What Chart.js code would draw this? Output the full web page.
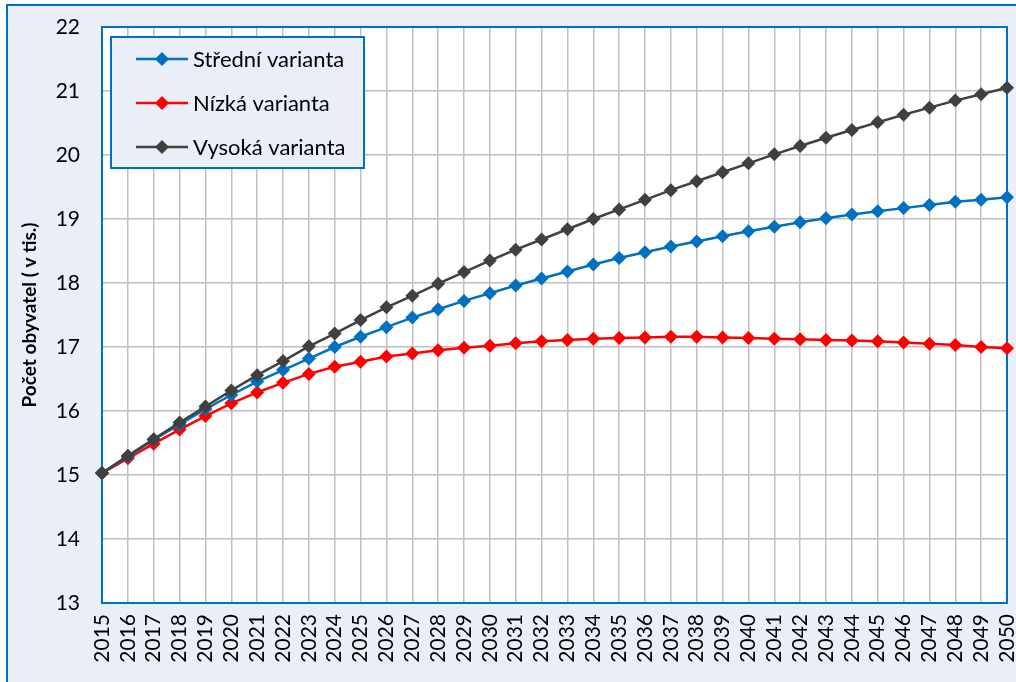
<!DOCTYPE html>
<html><head><meta charset="utf-8">
<script src="https://cdn.jsdelivr.net/npm/chart.js@4/dist/chart.umd.min.js"></script>
<style>html,body{margin:0;padding:0;background:#fff}#wrap{width:1016px;height:682px;position:relative}</style>
</head><body><div id="wrap"><canvas id="c" width="1016" height="682"></canvas></div>
<script>
const years = ['2015','2016','2017','2018','2019','2020','2021','2022','2023','2024','2025','2026','2027','2028','2029','2030','2031','2032','2033','2034','2035','2036','2037','2038','2039','2040','2041','2042','2043','2044','2045','2046','2047','2048','2049','2050'];
const stredni = [15.03,15.29,15.55,15.79,16.03,16.25,16.46,16.64,16.82,17.00,17.16,17.31,17.46,17.59,17.72,17.84,17.96,18.07,18.18,18.29,18.39,18.48,18.57,18.65,18.73,18.81,18.88,18.95,19.01,19.07,19.12,19.17,19.22,19.27,19.30,19.34];
const nizka = [15.03,15.26,15.49,15.71,15.92,16.12,16.29,16.44,16.58,16.69,16.77,16.85,16.90,16.95,16.99,17.02,17.06,17.09,17.11,17.13,17.14,17.15,17.16,17.16,17.15,17.14,17.13,17.12,17.11,17.10,17.09,17.07,17.05,17.03,17.00,16.98];
const vysoka = [15.03,15.30,15.56,15.82,16.07,16.32,16.56,16.78,17.01,17.21,17.42,17.62,17.80,17.99,18.17,18.35,18.52,18.68,18.84,19.00,19.15,19.30,19.45,19.59,19.73,19.87,20.01,20.14,20.27,20.39,20.51,20.63,20.74,20.85,20.95,21.05];
const seriesNames = ['Střední varianta','Nízká varianta','Vysoká varianta'];
const seriesColors = ['#0070C0','#FF0000','#404040'];
const yTitle = 'Počet obyvatel ( v tis.)';
const yMin = 13, yMax = 22;

const FONT = 'Lato, "Open Sans", sans-serif';
const BG = '#EAEEF6';
const BLUE = '#0070C0';

const bgPlugin = {
  id: 'bg',
  beforeDraw(chart) {
    const ctx = chart.ctx, a = chart.chartArea;
    ctx.save();
    ctx.fillStyle = '#fff';
    ctx.fillRect(0, 0, chart.width, chart.height);
    ctx.fillStyle = BG;
    ctx.fillRect(7, 5, chart.width + 10, chart.height + 10);
    ctx.strokeStyle = BLUE; ctx.lineWidth = 2;
    ctx.beginPath();
    ctx.moveTo(7, chart.height + 5); ctx.lineTo(7, 5); ctx.lineTo(chart.width + 5, 5);
    ctx.stroke();
    ctx.fillStyle = '#fff';
    ctx.fillRect(a.left, a.top, a.right - a.left, a.bottom - a.top);
    ctx.restore();
  },
  beforeDatasetsDraw(chart) {
    const ctx = chart.ctx, a = chart.chartArea;
    ctx.save();
    ctx.strokeStyle = BLUE; ctx.lineWidth = 2;
    ctx.strokeRect(a.left, a.top, a.right - a.left, a.bottom - a.top);
    ctx.restore();
  }
};

const legendPlugin = {
  id: 'boxLegend',
  afterDraw(chart) {
    const ctx = chart.ctx;
    ctx.save();
    ctx.fillStyle = BG;
    ctx.fillRect(111, 37, 253, 131);
    ctx.strokeStyle = BLUE; ctx.lineWidth = 2;
    ctx.strokeRect(111, 37, 253, 131);
    seriesNames.forEach((name, i) => {
      const y = 59 + 44 * i;
      const col = seriesColors[i];
      ctx.strokeStyle = col; ctx.lineWidth = 2.5;
      ctx.beginPath(); ctx.moveTo(136, y); ctx.lineTo(188, y); ctx.stroke();
      ctx.fillStyle = col;
      ctx.beginPath();
      ctx.moveTo(162, y - 7); ctx.lineTo(169, y); ctx.lineTo(162, y + 7); ctx.lineTo(155, y);
      ctx.closePath(); ctx.fill();
      ctx.fillStyle = '#000';
      ctx.font = '22px ' + FONT;
      ctx.textBaseline = 'middle'; ctx.textAlign = 'left';
      ctx.fillText(name, 193, y + 1);
    });
    ctx.restore();
  }
};

function ds(label, data, color, order) {
  return {
    label, data, order,
    borderColor: color, backgroundColor: color,
    borderWidth: 2.5, tension: 0,
    pointStyle: 'rectRot', pointRadius: 7, pointBorderWidth: 0,
    pointBackgroundColor: color, pointBorderColor: color,
    clip: false
  };
}

new Chart(document.getElementById('c'), {
  type: 'line',
  data: {
    labels: years,
    datasets: [
      ds(seriesNames[0], stredni, seriesColors[0], 1),
      ds(seriesNames[1], nizka, seriesColors[1], 2),
      ds(seriesNames[2], vysoka, seriesColors[2], 0)
    ]
  },
  options: {
    responsive: false,
    animation: false,
    devicePixelRatio: 1,
    layout: { padding: { left: 0, top: 27, right: 9, bottom: 0 } },
    plugins: { legend: { display: false }, tooltip: { enabled: false } },
    scales: {
      x: {
        offset: false,
        grid: { color: '#BFBFBF', lineWidth: 1.5, drawTicks: false },
        border: { display: false },
        ticks: { minRotation: 90, maxRotation: 90, autoSkip: false, padding: 11, color: '#000', font: { family: FONT, size: 21 } },
        afterFit(s) { s.height = 79; s.paddingLeft = 0; s.paddingRight = 0; }
      },
      y: {
        min: yMin, max: yMax,
        grid: { color: '#BFBFBF', lineWidth: 1.5, drawTicks: false },
        border: { display: false },
        ticks: { stepSize: 1, padding: 22, color: '#000', font: { family: FONT, size: 21 } },
        title: { display: true, text: yTitle, color: '#000', font: { family: FONT, size: 19, weight: 'bold' }, padding: { top: 18, bottom: 0 } },
        afterFit(s) { s.width = 102; s.paddingTop = 0; s.paddingBottom = 0; }
      }
    }
  },
  plugins: [bgPlugin, legendPlugin]
});
</script>
</body></html>
